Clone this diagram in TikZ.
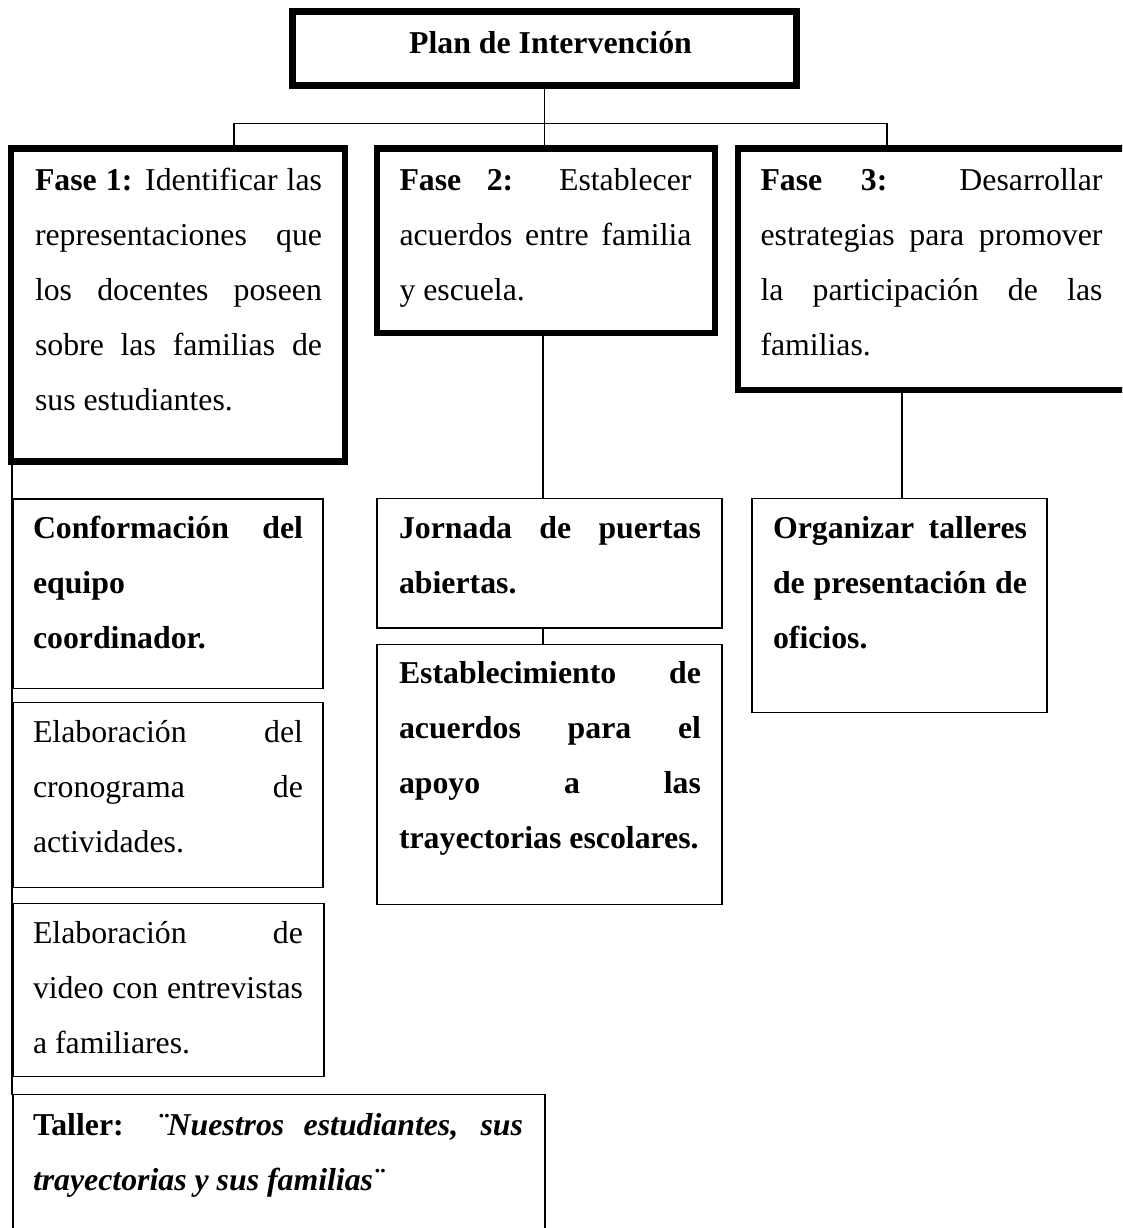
\documentclass[tikz,border=0pt]{standalone}
\usepackage{fontspec}
\setmainfont{Liberation Serif}
\tolerance=10000
\hbadness=10000
\hyphenpenalty=10000
\exhyphenpenalty=10000
\newcommand\boxfont{\fontsize{31.8}{55}\selectfont}
\tikzset{
  thickbox/.style={draw, rectangle, line width=6.5pt, inner sep=0pt, outer sep=0pt, anchor=north west},
  thinbox/.style={draw, rectangle, line width=1.6pt, inner sep=0pt, outer sep=0pt, anchor=north west},
  conn/.style={line width=1.3pt},
  txt/.style={anchor=north west, inner sep=0pt, outer sep=0pt, align=justify, font=\boxfont},
}
\begin{document}
\begin{tikzpicture}[x=1pt,y=-1pt]
\useasboundingbox (0,0) rectangle (1122,1228);
\clip (0,0) rectangle (1122,1228);

% boxes
\node[thickbox, minimum width=504pt, minimum height=74pt] (title) at (292.5,11.5) {};
\node[thickbox, minimum width=334pt, minimum height=313pt] (fase1) at (11,148.5) {};
\node[thickbox, minimum width=338pt, minimum height=184.5pt] (fase2) at (377,148.5) {};
\node[thickbox, minimum width=402pt, minimum height=241.5pt] (fase3) at (738,148.5) {};

\node[thinbox, minimum width=310pt, minimum height=189.5pt] (conf) at (13,499) {};
\node[thinbox, minimum width=310pt, minimum height=185pt] (crono) at (13,702.5) {};
\node[thinbox, minimum width=311pt, minimum height=173pt] (video) at (13,903.5) {};
\node[thinbox, minimum width=532pt, minimum height=145.5pt] (taller) at (13,1094.5) {};
\node[thinbox, minimum width=345pt, minimum height=129.5pt] (jornada) at (377,498.5) {};
\node[thinbox, minimum width=345pt, minimum height=260pt] (establec) at (377,644.5) {};
\node[thinbox, minimum width=295pt, minimum height=214pt] (organizar) at (752,498.5) {};

% texts
\node[anchor=base, inner sep=0pt, font=\boxfont\bfseries] (titletxt) at (550.5,53.3) {Plan de Intervención};

\node[txt, text width=287pt] (t1) at (35,151.5) {\noindent\strut\textbf{Fase 1:} Identificar las\linebreak representaciones que\linebreak los docentes poseen\linebreak sobre las familias de\linebreak sus estudiantes.};
\node[txt, text width=292pt] (t2) at (399.5,151.5) {\noindent\strut\textbf{Fase 2:} Establecer\linebreak acuerdos entre familia\linebreak y escuela.};
\node[txt, text width=342pt] (t3) at (760.5,151.5) {\noindent\strut\textbf{Fase 3:} Desarrollar\linebreak estrategias para promover\linebreak la participación de las\linebreak familias.};

\node[txt, text width=270pt] (tconf) at (33,499.5) {\noindent\strut\textbf{Conformación del\linebreak equipo\linebreak coordinador.}};
\node[txt, text width=270pt] (tcrono) at (33,703.5) {\noindent\strut Elaboración del\linebreak cronograma de\linebreak actividades.};
\node[txt, text width=270pt] (tvideo) at (33,904.5) {\noindent\strut Elaboración de\linebreak video con entrevistas\linebreak a familiares.};
\node[txt, text width=490pt] (ttaller) at (33,1096.5) {\noindent\strut\textbf{Taller:} \textbf{\textit{¨Nuestros estudiantes, sus\linebreak trayectorias y sus familias¨}}};
\node[txt, text width=302pt] (tjornada) at (399,499.5) {\noindent\strut\textbf{Jornada de puertas\linebreak abiertas.}};
\node[txt, text width=302pt] (testablec) at (399,644.5) {\noindent\strut\textbf{Establecimiento de\linebreak acuerdos para el\linebreak apoyo a las\linebreak trayectorias escolares.}};
\node[txt, text width=254pt] (torganizar) at (773,499.5) {\noindent\strut\textbf{Organizar talleres\linebreak de presentación de\linebreak oficios.}};

% connectors
\coordinate (bus1) at (234,123.5);
\coordinate (bus3) at (887,123.5);
\coordinate (c2) at (543,0);
\coordinate (c3) at (902,0);
\coordinate (lx) at (12,0);
\draw[conn] (title.south) -- (title.south |- fase2.north);
\draw[conn] (fase1.north -| bus1) -- (bus1) -- (bus3) -- (fase3.north -| bus3);
\draw[conn] (fase2.south -| c2) -- (jornada.north -| c2);
\draw[conn] (jornada.south -| c2) -- (establec.north -| c2);
\draw[conn] (fase3.south -| c3) -- (organizar.north -| c3);
\draw[conn] (fase1.south -| lx) -- (taller.north -| lx);
\end{tikzpicture}
\end{document}
